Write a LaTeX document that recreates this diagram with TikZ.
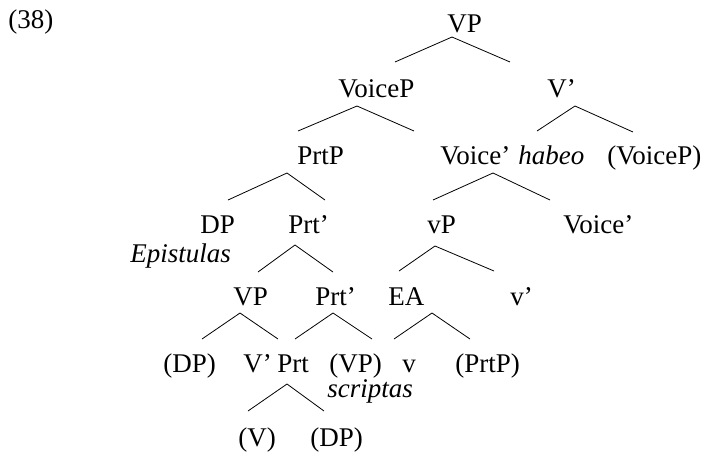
\documentclass[tikz,border=0pt]{standalone}
\usepackage{fontspec}
\setmainfont{Liberation Serif}

\begin{document}
\begin{tikzpicture}[x=1pt, y=-1pt, line width=.8pt,
    every node/.style={inner sep=0pt, anchor=base west, font=\fontsize{27}{32}\selectfont}]
  \useasboundingbox (0, 0) rectangle (701, 451);

  \node (ex) at (8, 28){(38)};

    %%row 1
    \node (vp) at (447, 32){VP};
    \coordinate (vpl) at (395, 62);
    \coordinate (vpa) at (452, 37);
    \coordinate (vpr) at (510, 62);
    \draw(vpl) to (vpa) to (vpr);

    %%row 2
    \node (voicep) at (338, 97){VoiceP};
    \node (vbar) at (547, 97){V’};
    \coordinate (voicepl) at (298, 131);
    \coordinate (voicepa) at (357, 106);
    \coordinate (voicepr) at (414, 131);
    \draw(voicepl) to (voicepa) to (voicepr);
    \coordinate (vbarl) at (537, 131);
    \coordinate (vbara) at (575, 106);
    \coordinate (vbarr) at (633, 132);
    \draw(vbarl) to (vbara) to (vbarr);

    %%row 3
    \node (prtp) at (297, 164){PrtP};
    \node (voicebar) at (440, 164){Voice’};
    \node (habeo) at (518, 164){\itshape habeo};
    \node (voicepb) at (607, 164){(VoiceP)};
    \coordinate (prtpl) at (228, 200);
    \coordinate (prtpa) at (287, 173);
    \coordinate (prtpr) at (325, 200);
    \draw(prtpl) to (prtpa) to (prtpr);
    \coordinate (voicebarl) at (433, 200);
    \coordinate (voicebara) at (493, 173);
    \coordinate (voicebarr) at (550, 200);
    \draw(voicebarl) to (voicebara) to (voicebarr);

    %%row 4
    \node (dp) at (200, 233){DP};
    \node (prtbar) at (288, 233){Prt’};
    \node (littlevp) at (427, 233){vP};
    \node (voicebarb) at (563, 233){Voice’};
    \node (epist) at (130, 262){\itshape Epistulas};
    \coordinate (prtbarl) at (258, 272);
    \coordinate (prtbara) at (295, 245);
    \coordinate (prtbarr) at (333, 272);
    \draw(prtbarl) to (prtbara) to (prtbarr);
    \coordinate (littlevpl) at (399, 271);
    \coordinate (littlevpa) at (435, 246);
    \coordinate (littlevpr) at (494, 271);
    \draw(littlevpl) to (littlevpa) to (littlevpr);

    %%row 5
    \node (vpb) at (233, 305){VP};
    \node (prtbarb) at (315, 305){Prt’};
    \node (ea) at (388, 305){EA};
    \node (littlevbar) at (510, 305){v’};
    \coordinate (vpbl) at (202, 339);
    \coordinate (vpba) at (240, 313);
    \coordinate (vpbr) at (278, 339);
    \draw(vpbl) to (vpba) to (vpbr);
    \coordinate (prtbarbl) at (295, 339);
    \coordinate (prtbarba) at (333, 313);
    \coordinate (prtbarbr) at (372, 339);
    \draw(prtbarbl) to (prtbarba) to (prtbarbr);
    \coordinate (eal) at (394, 339);
    \coordinate (eaa) at (432, 313);
    \coordinate (ear) at (470, 339);
    \draw(eal) to (eaa) to (ear);

    %%row 6
    \node (dpb) at (163, 372){(DP)};
    \node (vbarb) at (243, 372){V’};
    \node (prt) at (277, 372){Prt};
    \node (vpc) at (329, 372){(VP)};
    \node (littlev) at (402, 372){v};
    \node (prtpb) at (455, 372){(PrtP)};
    \node (scriptas) at (327, 397){\itshape scriptas};
    \coordinate (vbarbl) at (248, 411);
    \coordinate (vbarba) at (287, 384);
    \coordinate (vbarbr) at (324, 411);
    \draw(vbarbl) to (vbarba) to (vbarbr);

    %%row 7
    \node (vc) at (238, 446){(V)};
    \node (dpc) at (310, 446){(DP)};

\end{tikzpicture}
\end{document}
